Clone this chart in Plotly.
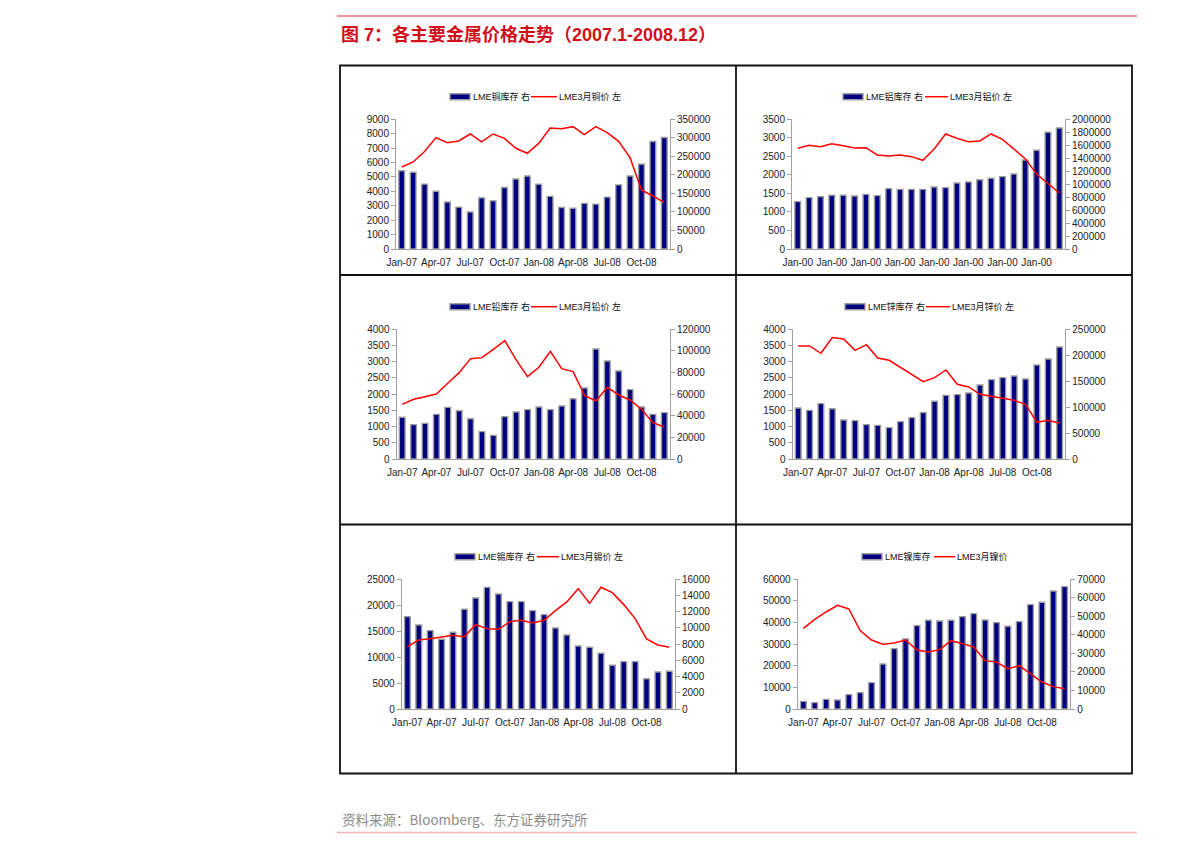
import plotly.graph_objects as go

# ---------------- data ----------------
tick_idx = [0, 3, 6, 9, 12, 15, 18, 21]
tick_text = ["Jan-07", "Apr-07", "Jul-07", "Oct-07", "Jan-08", "Apr-08", "Jul-08", "Oct-08"]
tick_text_al = ["Jan-00"] * 8

cu_stock = [211000, 207000, 175000, 156000, 127000, 113000, 100000, 138000, 130000, 166000, 189000, 197000,
            175000, 142000, 112000, 110000, 123000, 121000, 140000, 173000, 197000, 229000, 290000, 301000]
cu_price = [5690, 6040, 6760, 7730, 7380, 7500, 7980, 7430, 7980, 7680, 6990, 6640,
            7330, 8400, 8350, 8490, 7940, 8490, 8070, 7470, 6340, 4100, 3680, 3220]

al_stock = [730000, 792000, 807000, 828000, 828000, 818000, 843000, 823000, 931000, 920000, 920000, 920000,
            956000, 946000, 1018000, 1033000, 1069000, 1090000, 1116000, 1157000, 1373000, 1522000, 1800000, 1866000]
al_price = [2717, 2798, 2762, 2843, 2789, 2726, 2735, 2537, 2510, 2537, 2492, 2393,
            2699, 3104, 2987, 2897, 2915, 3104, 2960, 2708, 2438, 2024, 1773, 1512]

pb_stock = [38600, 31800, 33000, 41300, 47800, 44700, 37300, 25300, 21900, 39200, 43500, 45700,
            48100, 45700, 49100, 55800, 65700, 101800, 90700, 81400, 64200, 48100, 41300, 42900]
pb_price = [1686, 1841, 1923, 2005, 2334, 2663, 3095, 3126, 3383, 3650, 3054, 2540,
            2828, 3321, 2787, 2694, 1964, 1789, 2211, 1974, 1820, 1532, 1121, 987]

zn_stock = [98300, 93800, 106700, 97000, 75200, 73900, 66200, 64900, 60400, 72000, 79700, 89300,
            111200, 122700, 124000, 127200, 142700, 153000, 156800, 160000, 154300, 181200, 192800, 215900]
zn_price = [3486, 3486, 3260, 3743, 3702, 3352, 3527, 3116, 3044, 2828, 2591, 2386,
            2509, 2745, 2303, 2221, 1995, 1933, 1892, 1810, 1686, 1131, 1193, 1100]

sn_stock = [11390, 10370, 9670, 8600, 9460, 12300, 13700, 15010, 14190, 13240, 13240, 12130,
            11640, 10000, 9130, 7770, 7610, 6870, 5390, 5840, 5840, 3740, 4570, 4650]
sn_price = [12020, 13300, 13560, 13820, 14200, 13950, 16260, 15490, 15360, 16840, 17100, 16580,
            17100, 18960, 20630, 23200, 20370, 23460, 22430, 20120, 17420, 13500, 12340, 11890]

ni_stock = [4140, 3420, 5220, 4860, 7740, 8820, 14220, 24290, 32570, 37790, 44990, 47870,
            47510, 47870, 49840, 51460, 48050, 46610, 44630, 47150, 56330, 57580, 63700, 66050]
ni_price = [37330, 41490, 44880, 47970, 46270, 36250, 31930, 29920, 30540, 31930, 27300, 26380,
            27460, 31620, 30230, 28690, 22370, 21750, 18670, 20050, 16200, 12490, 10340, 9410]

months = list(range(24))

W, H = 1190, 847


def fx(px):
    return px / W


def fy(py):
    return 1 - py / H


# legend geometry per panel: (rect x0, rect x1, text1 x, line x0, line x1, text2 x, y)
panels = [
    dict(sname="LME铜库存 右", pname="LME3月铜价 左", stock=cu_stock, price=cu_price,
         lrange=9000, ldt=1000, rrange=350000, rdt=50000, ticks=tick_text,
         box=(396, 670, 119.3, 249), leg=(450, 470, 471.5, 531, 557, 558, 96.7)),
    dict(sname="LME铝库存 右", pname="LME3月铝价 左", stock=al_stock, price=al_price,
         lrange=3500, ldt=500, rrange=2000000, rdt=200000, ticks=tick_text_al,
         box=(792, 1065, 119.3, 249), leg=(843, 863, 864.5, 925, 948, 949, 96.7)),
    dict(sname="LME铅库存 右", pname="LME3月铅价 左", stock=pb_stock, price=pb_price,
         lrange=4000, ldt=500, rrange=120000, rdt=20000, ticks=tick_text,
         box=(396.5, 670, 329.3, 459), leg=(450, 470, 471.5, 531, 557, 558, 306.7)),
    dict(sname="LME锌库存 右", pname="LME3月锌价 左", stock=zn_stock, price=zn_price,
         lrange=4000, ldt=500, rrange=250000, rdt=50000, ticks=tick_text,
         box=(792.5, 1065.3, 329.3, 459), leg=(845, 865, 866.5, 926, 950, 951, 306.7)),
    dict(sname="LME锡库存 右", pname="LME3月锡价 左", stock=sn_stock, price=sn_price,
         lrange=25000, ldt=5000, rrange=16000, rdt=2000, ticks=tick_text,
         box=(401.7, 675, 579.3, 709), leg=(455, 475, 476.5, 537, 559, 560, 556.7)),
    dict(sname="LME镍库存", pname="LME3月镍价", stock=ni_stock, price=ni_price,
         lrange=60000, ldt=10000, rrange=70000, rdt=10000, ticks=tick_text,
         box=(797.7, 1070.3, 579.3, 709), leg=(862, 882, 883.5, 934, 955, 956, 556.7)),
]

FONT = "Liberation Sans, Arial, Noto Sans CJK SC, sans-serif"
AXC = "#a0a0a0"
NAVY = "#000080"
EDGE = "#9c9c9c"
RED = "#ff0000"

fig = go.Figure()
layout = dict(
    width=W, height=H, autosize=False,
    margin=dict(l=0, r=0, t=0, b=0, pad=0),
    paper_bgcolor="white", plot_bgcolor="white",
    font=dict(family=FONT, size=10, color="#222222"),
    showlegend=False,
    shapes=[], annotations=[],
)
shapes = layout["shapes"]
anns = layout["annotations"]

for i, p in enumerate(panels):
    n = i + 1
    xa = "x" if n == 1 else f"x{n}"
    yb = 2 * n - 1  # base axis (right, stock)
    yo = 2 * n      # overlaying axis (left, price)
    yb_name = "y" if yb == 1 else f"y{yb}"
    yo_name = f"y{yo}"
    x0, x1, ytop, ybot = p["box"]

    fig.add_trace(go.Bar(
        x=months, y=p["stock"], name=p["sname"], xaxis=xa, yaxis=yb_name,
        marker=dict(color=NAVY, line=dict(color=EDGE, width=1.4)),
        width=0.5,
    ))
    fig.add_trace(go.Scatter(
        x=months, y=p["price"], name=p["pname"], xaxis=xa, yaxis=yo_name,
        mode="lines", line=dict(color=RED, width=1.5),
    ))

    xkey = "xaxis" if n == 1 else f"xaxis{n}"
    ybkey = "yaxis" if yb == 1 else f"yaxis{yb}"
    yokey = f"yaxis{yo}"
    layout[xkey] = dict(
        domain=[fx(x0), fx(x1)], anchor=yb_name, range=[-0.5, 23.5],
        tickmode="array", tickvals=tick_idx, ticktext=p["ticks"],
        showline=True, linecolor=AXC, linewidth=1, ticks="outside", ticklen=4,
        tickcolor="rgba(0,0,0,0)", showgrid=False, automargin=False,
        zeroline=False, tickfont=dict(size=10, family=FONT, color="#222222"),
    )
    layout[ybkey] = dict(
        domain=[fy(ybot), fy(ytop)], anchor=xa, side="right",
        range=[0, p["rrange"]], dtick=p["rdt"], tick0=0, tickformat="d",
        showline=True, linecolor=AXC, linewidth=1, ticks="outside", ticklen=4,
        tickcolor=AXC, showgrid=False, zeroline=False, automargin=False,
        tickfont=dict(size=10, family=FONT, color="#222222"),
    )
    layout[yokey] = dict(
        overlaying=yb_name, anchor=xa, side="left",
        range=[0, p["lrange"]], dtick=p["ldt"], tick0=0, tickformat="d",
        showline=True, linecolor=AXC, linewidth=1, ticks="outside", ticklen=4,
        tickcolor=AXC, showgrid=False, zeroline=False, automargin=False,
        tickfont=dict(size=10, family=FONT, color="#222222"),
    )

    # legend (drawn as shapes + text)
    rx0, rx1, tx1, lx0, lx1, tx2, ly = p["leg"]
    shapes.append(dict(type="rect", xref="paper", yref="paper",
                       x0=fx(rx0), x1=fx(rx1), y0=fy(ly + 3), y1=fy(ly - 3),
                       fillcolor=NAVY, line=dict(color=EDGE, width=1.4)))
    shapes.append(dict(type="line", xref="paper", yref="paper",
                       x0=fx(lx0), x1=fx(lx1), y0=fy(ly), y1=fy(ly),
                       line=dict(color=RED, width=1.5)))
    anns.append(dict(text=p["sname"], xref="paper", yref="paper", x=fx(tx1), y=fy(ly),
                     xanchor="left", yanchor="middle", showarrow=False, borderpad=0,
                     font=dict(size=9, family=FONT, color="#111111")))
    anns.append(dict(text=p["pname"], xref="paper", yref="paper", x=fx(tx2), y=fy(ly),
                     xanchor="left", yanchor="middle", showarrow=False, borderpad=0,
                     font=dict(size=9, family=FONT, color="#111111")))

# frame
shapes.append(dict(type="rect", xref="paper", yref="paper", x0=fx(340), x1=fx(1132), y0=fy(773.5), y1=fy(65.5),
                   line=dict(color="#111111", width=1.8), fillcolor="rgba(0,0,0,0)"))
shapes.append(dict(type="line", xref="paper", yref="paper", x0=fx(736), x1=fx(736), y0=fy(773.5), y1=fy(65.5),
                   line=dict(color="#111111", width=1.8)))
for yy in (275, 524.5):
    shapes.append(dict(type="line", xref="paper", yref="paper", x0=fx(340), x1=fx(1132), y0=fy(yy), y1=fy(yy),
                       line=dict(color="#111111", width=1.8)))
# top and bottom rules
shapes.append(dict(type="line", xref="paper", yref="paper", x0=fx(337), x1=fx(1137), y0=fy(16), y1=fy(16),
                   line=dict(color="#e07070", width=1.5)))
shapes.append(dict(type="line", xref="paper", yref="paper", x0=fx(337), x1=fx(1137), y0=fy(832.5), y1=fy(832.5),
                   line=dict(color="#f2b4b4", width=1.5)))

anns.append(dict(text="<b>图 7：各主要金属价格走势（2007.1-2008.12）</b>", xref="paper", yref="paper",
                 x=fx(339), y=fy(35), xanchor="left", yanchor="middle", showarrow=False,
                 font=dict(size=18, color="#d0101b", family="Liberation Sans, Noto Sans CJK SC, sans-serif")))
anns.append(dict(text="资料来源：Bloomberg、东方证券研究所", xref="paper", yref="paper",
                 x=fx(340), y=fy(819), xanchor="left", yanchor="middle", showarrow=False,
                 font=dict(size=13.5, color="#8a8a8a", family="Noto Sans CJK SC, Liberation Sans, sans-serif")))

fig.update_layout(**layout)

post = "document.body.style.margin = '0'; document.body.style.overflow = 'hidden';"
fig.write_html("out.html", post_script=post, config={"displayModeBar": False, "staticPlot": True})
